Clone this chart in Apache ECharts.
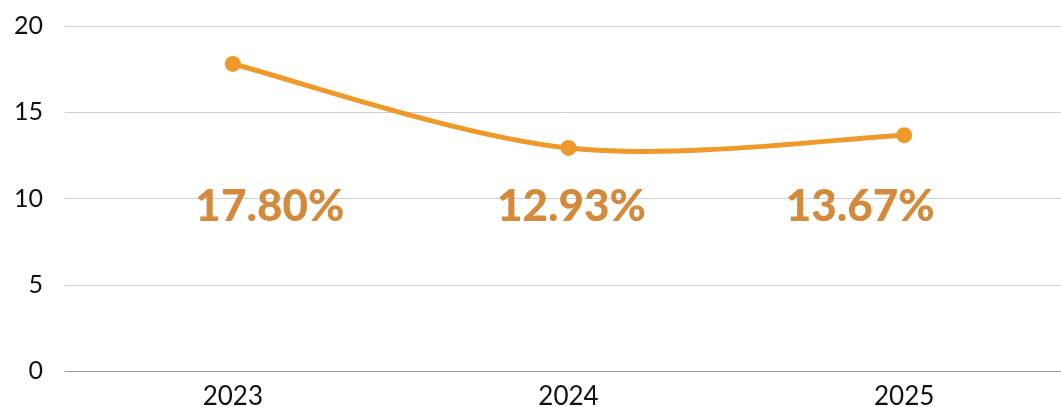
<!DOCTYPE html>
<html><head><meta charset="utf-8">
<script src="https://cdn.jsdelivr.net/npm/echarts@6/dist/echarts.min.js"></script>
<style>html,body{margin:0;padding:0;background:#fff}#c{width:1061px;height:407px}</style>
</head><body><div id="c"></div>
<script>
const categories = ['2023', '2024', '2025'];
const values = [17.80, 12.93, 13.67];
const labelTexts = ['17.80%', '12.93%', '13.67%'];
const yTicks = [0, 5, 10, 15, 20];

const labelLevel = 9.5;
const labelShift = [37, 3, -44];

function curveItem(params, api) {
  if (params.dataIndex !== 0) return null;
  const pts = values.map((v, i) => api.coord([i, v]));
  const n = pts.length;
  let d = 'M' + pts[0][0] + ',' + pts[0][1];
  for (let i = 0; i < n - 1; i++) {
    const p0 = pts[Math.max(i - 1, 0)], p1 = pts[i], p2 = pts[i + 1], p3 = pts[Math.min(i + 2, n - 1)];
    const c1 = [p1[0] + (p2[0] - p0[0]) / 6, p1[1] + (p2[1] - p0[1]) / 6];
    const c2 = [p2[0] - (p3[0] - p1[0]) / 6, p2[1] - (p3[1] - p1[1]) / 6];
    d += ' C' + c1[0] + ',' + c1[1] + ' ' + c2[0] + ',' + c2[1] + ' ' + p2[0] + ',' + p2[1];
  }
  return {
    type: 'path',
    shape: { pathData: d },
    style: { fill: null, stroke: '#F0992B', lineWidth: 5, lineCap: 'round', lineJoin: 'round' }
  };
}

const chart = echarts.init(document.getElementById('c'));
chart.setOption({
  animation: false,
  grid: { left: 65, width: 1007, top: 26, bottom: 36, outerBoundsMode: 'none', containLabel: false },
  xAxis: {
    type: 'category', data: categories, boundaryGap: true,
    axisLine: { lineStyle: { color: '#999', width: 1 } },
    axisTick: { show: false },
    axisLabel: { color: '#111', fontSize: 26, fontFamily: 'Lato', margin: 13 }
  },
  yAxis: {
    type: 'value', min: yTicks[0], max: yTicks[yTicks.length - 1], interval: 5,
    axisLine: { show: false }, axisTick: { show: false },
    splitLine: { lineStyle: { color: '#cfcfcf', width: 1 } },
    axisLabel: { color: '#111', fontSize: 25, fontFamily: 'Lato', margin: 22 }
  },
  series: [
    {
      type: 'custom', z: 1, silent: true,
      data: values.map((v, i) => [i, v]),
      encode: { x: 0, y: 1 },
      renderItem: curveItem
    },
    {
      type: 'line', data: values, z: 3,
      lineStyle: { opacity: 0 },
      itemStyle: { color: '#F0992B' },
      symbol: 'circle', symbolSize: 16, showSymbol: true
    },
    {
      type: 'scatter', symbolSize: 0, silent: true,
      itemStyle: { opacity: 1 },
      data: categories.map((c, i) => ({
        value: [c, labelLevel],
        label: { offset: [labelShift[i], 0] }
      })),
      label: {
        show: true, position: 'inside',
        formatter: p => labelTexts[p.dataIndex],
        color: '#D38A3B', fontSize: 44, fontWeight: 900, fontFamily: 'Lato', opacity: 1
      }
    }
  ]
});
</script></body></html>
